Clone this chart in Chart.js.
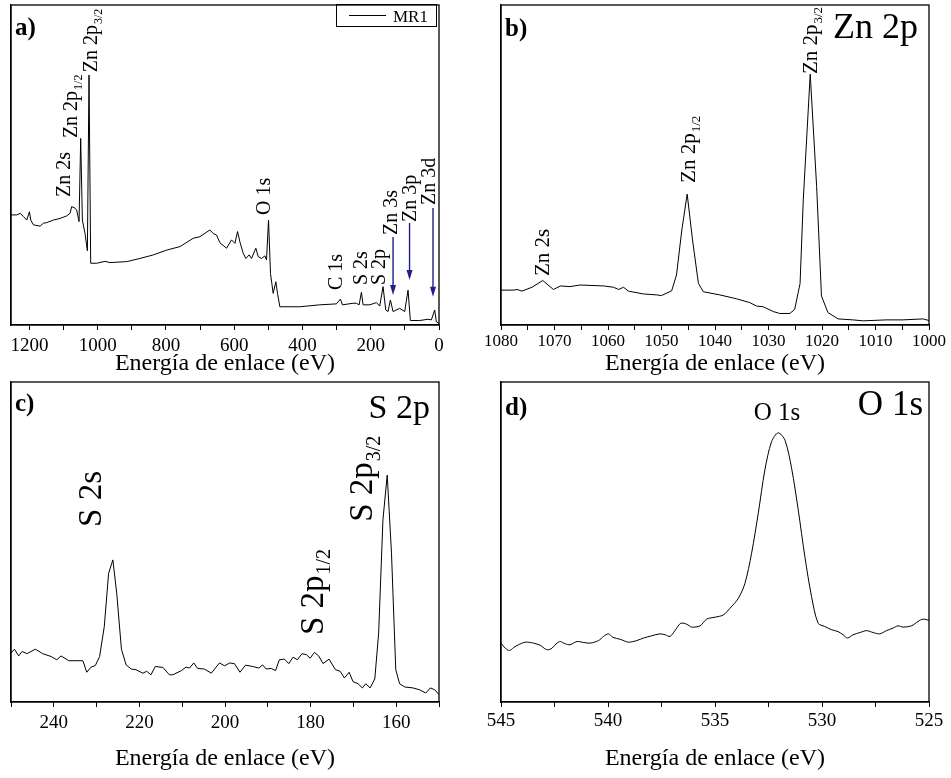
<!DOCTYPE html>
<html>
<head>
<meta charset="utf-8">
<script src="https://cdn.jsdelivr.net/npm/chart.js@4.4.1/dist/chart.umd.min.js"></script>
<style>
  html, body { margin: 0; padding: 0; background: #fff; }
  #wrap { position: relative; width: 951px; height: 778px; overflow: hidden; }
  canvas { position: absolute; }
</style>
</head>
<body>
<div id="wrap">
  <canvas id="chA" width="475" height="380" style="left:0;top:0"></canvas>
  <canvas id="chB" width="481" height="380" style="left:470px;top:0"></canvas>
  <canvas id="chC" width="475" height="398" style="left:0;top:380px"></canvas>
  <canvas id="chD" width="481" height="398" style="left:470px;top:380px"></canvas>
</div>
<script>
// a) survey spectrum
const surveyEnergy = [1253.7, 1237.1, 1227.3, 1217.6, 1207.8, 1200.0, 1196.1, 1188.3, 1168.8, 1159.0, 1149.3, 1129.8, 1110.2, 1090.7, 1081.0, 1076.1, 1066.3, 1061.5, 1054.6, 1049.8, 1044.9, 1037.1, 1030.2, 1025.4, 1020.5, 1002.9, 978.5, 963.9, 915.1, 876.1, 837.1, 798.0, 759.0, 720.0, 700.5, 671.2, 661.5, 651.7, 642.0, 622.4, 607.8, 598.0, 590.2, 583.4, 573.7, 565.9, 556.1, 549.3, 536.6, 529.8, 520.0, 510.2, 505.4, 499.5, 493.7, 485.9, 478.0, 473.2, 466.3, 407.8, 349.3, 300.5, 288.8, 282.9, 251.7, 242.0, 234.1, 227.3, 222.4, 202.9, 183.4, 173.7, 163.9, 156.1, 149.3, 142.4, 134.6, 115.1, 100.5, 90.7, 83.9, 56.6, 32.2, 22.4, 12.7, 7.8, 0];
const surveyCounts = [34.4, 34.4, 34.9, 33.9, 32.8, 35.4, 32.8, 31.3, 30.9, 31.8, 32.0, 32.8, 33.3, 34.1, 34.9, 37.0, 36.5, 35.9, 32.3, 58.3, 32.8, 28.6, 23.2, 78.1, 19.3, 19.3, 19.9, 19.5, 19.8, 20.8, 21.9, 23.4, 24.5, 27.1, 27.6, 29.7, 28.6, 28.1, 25.7, 24.0, 26.6, 25.5, 29.2, 26.0, 22.4, 20.8, 21.9, 20.8, 24.0, 21.4, 20.8, 21.6, 20.3, 32.8, 16.1, 9.9, 13.5, 9.9, 5.7, 5.7, 6.3, 6.6, 8.1, 6.3, 6.8, 6.8, 6.3, 10.2, 6.3, 6.3, 7.0, 5.9, 12.0, 4.7, 4.2, 7.8, 4.2, 5.2, 4.2, 10.9, 1.4, 1.4, 1.8, 1.6, 4.7, 1.0, 0.5];

// b) Zn 2p
const zn2pEnergy = [1080.0, 1077.6, 1077.0, 1076.1, 1074.2, 1072.2, 1070.2, 1068.9, 1067.1, 1065.2, 1060.8, 1059.0, 1058.0, 1057.1, 1056.2, 1053.4, 1050.9, 1050.0, 1048.1, 1047.2, 1046.2, 1045.2, 1044.2, 1043.1, 1042.2, 1039.1, 1036.0, 1033.5, 1032.2, 1031.0, 1029.1, 1027.9, 1026.0, 1025.1, 1024.1, 1023.5, 1022.2, 1021.0, 1020.1, 1018.9, 1017.0, 1014.2, 1012.3, 1008.0, 1004.9, 1001.1, 1000.0];
const zn2pCounts = [10.9, 10.9, 11.1, 10.6, 11.8, 13.9, 11.1, 12.2, 12.0, 12.5, 12.2, 11.8, 11.1, 11.8, 10.6, 9.7, 9.4, 9.2, 10.7, 15.6, 29.7, 40.9, 26.6, 13.0, 10.4, 9.4, 8.2, 7.0, 5.9, 5.7, 4.2, 3.6, 3.6, 4.9, 13.0, 39.1, 78.4, 43.2, 9.1, 3.9, 1.9, 1.6, 1.3, 1.6, 1.6, 1.9, 1.4];

// c) S 2p
const s2pEnergy = [250.0, 249.2, 248.2, 247.4, 246.3, 244.3, 242.6, 240.6, 239.3, 238.3, 236.5, 233.2, 232.3, 231.3, 230.3, 229.3, 228.2, 227.2, 226.2, 225.3, 224.2, 223.1, 221.9, 220.8, 219.2, 218.3, 217.3, 216.3, 214.5, 213.0, 212.2, 210.2, 209.1, 208.3, 207.3, 206.4, 204.8, 203.2, 201.3, 200.1, 198.9, 197.8, 196.5, 195.2, 193.5, 192.1, 191.2, 190.4, 189.2, 188.2, 187.3, 186.1, 185.1, 184.1, 183.1, 182.0, 181.0, 180.1, 179.1, 178.1, 177.1, 175.7, 174.2, 173.1, 172.1, 171.0, 170.1, 168.9, 167.9, 167.1, 166.1, 165.0, 164.1, 163.1, 162.1, 161.1, 160.1, 159.2, 158.0, 156.1, 154.5, 153.1, 152.0, 151.0, 150.0];
const s2pCounts = [15.3, 16.5, 14.4, 15.8, 15.1, 16.5, 15.1, 14.2, 13.2, 14.4, 12.9, 12.9, 9.3, 10.9, 11.4, 14.2, 23.6, 40.2, 44.4, 34.0, 16.5, 11.6, 10.3, 10.1, 9.0, 9.6, 8.5, 11.1, 10.8, 8.5, 8.5, 9.8, 10.9, 10.6, 12.2, 10.5, 10.3, 9.0, 12.2, 11.3, 12.2, 12.0, 9.3, 11.5, 11.1, 10.6, 11.6, 10.3, 10.5, 9.8, 13.2, 13.4, 12.0, 14.0, 13.2, 15.1, 14.8, 13.7, 15.5, 14.4, 12.0, 13.4, 10.1, 9.6, 7.5, 9.3, 6.4, 5.7, 4.4, 5.7, 4.4, 7.2, 21.5, 56.9, 70.9, 46.5, 10.1, 5.7, 4.7, 4.4, 3.8, 2.8, 4.4, 3.8, 2.3];

// d) O 1s
const o1sEnergy = [545.00, 544.80, 544.60, 544.41, 544.18, 543.86, 543.48, 543.16, 542.98, 542.82, 542.62, 542.39, 542.23, 542.00, 541.77, 541.45, 541.14, 540.83, 540.44, 540.21, 539.98, 539.77, 539.43, 539.04, 538.65, 538.34, 537.95, 537.57, 537.33, 537.10, 536.87, 536.60, 536.32, 536.09, 535.70, 535.39, 535.00, 534.61, 534.30, 533.91, 533.60, 533.29, 532.98, 532.67, 532.36, 532.05, 531.73, 531.42, 531.11, 530.80, 530.49, 530.18, 529.87, 529.56, 529.25, 529.01, 528.81, 528.55, 528.23, 527.92, 527.61, 527.30, 526.99, 526.68, 526.45, 526.21, 525.82, 525.51, 525.28, 525.00];
const o1sCounts = [18.4, 16.8, 16.1, 17.0, 17.9, 18.7, 18.4, 17.7, 16.8, 16.3, 16.8, 18.4, 18.9, 18.2, 17.9, 18.9, 18.6, 18.4, 19.2, 20.5, 21.3, 20.2, 19.6, 18.7, 19.2, 20.0, 20.7, 21.3, 21.0, 20.5, 22.3, 24.6, 24.3, 23.4, 23.8, 25.9, 26.5, 27.2, 29.3, 32.4, 37.1, 46.5, 58.9, 72.5, 81.3, 84.1, 81.8, 73.0, 60.0, 45.4, 33.0, 24.6, 23.6, 22.6, 22.0, 21.0, 20.0, 21.0, 21.7, 22.3, 21.7, 21.3, 22.3, 23.1, 23.8, 23.4, 23.8, 25.2, 25.9, 25.5];

const axisTitle = 'Energía de enlace (eV)';
const seriesName = 'MR1';

// peak labels (x in eV, y at the start of the text in counts units)
const peaksA = [
  { t: 'Zn 2s', x: 1101, y: 40 },
  { t: 'Zn 2p', s: '1/2', x: 1080, y: 58.4 },
  { t: 'Zn 2p', s: '3/2', x: 1021, y: 79 },
  { t: 'O 1s', x: 515, y: 34.4 },
  { t: 'C 1s', x: 304, y: 10.9 },
  { t: 'S 2s', x: 231, y: 12.5 },
  { t: 'S 2p', x: 179, y: 12.5 },
  { t: 'Zn 3s', x: 143, y: 28.1 },
  { t: 'Zn 3p', x: 87, y: 32.2 },
  { t: 'Zn 3d', x: 32, y: 37.5 }
];
const arrowsA = [
  { x: 134.6, from: 27.5, to: 9.4 },
  { x: 86.3, from: 31.9, to: 14.1 },
  { x: 17.6, from: 36.6, to: 8.8 }
];
const peaksB = [
  { t: 'Zn 2s', x: 1072.3, y: 15.3 },
  { t: 'Zn 2p', s: '1/2', x: 1045, y: 44.4 },
  { t: 'Zn 2p', s: '3/2', x: 1022.2, y: 78.4 }
];
const peaksC = [
  { t: 'S 2s', x: 231.7, y: 54.7 },
  { t: 'S 2p', s: '1/2', x: 179.8, y: 20.9 },
  { t: 'S 2p', s: '3/2', x: 168.2, y: 56.3 }
];
const peaksD = [
  { t: 'O 1s', x: 532.1, y: 88.1, flat: true }
];

const SERIF = '"Liberation Serif", "Times New Roman", serif';

function toPoints(xs, ys) {
  return xs.map((e, i) => ({ x: e, y: ys[i] }));
}

// frame around the plot area
const framePlugin = {
  id: 'frame',
  afterDraw(chart) {
    const { ctx, chartArea: ca } = chart;
    ctx.save();
    ctx.strokeStyle = '#000';
    ctx.lineWidth = 1.3;
    ctx.strokeRect(ca.left, ca.top, ca.right - ca.left, ca.bottom - ca.top);
    ctx.restore();
  }
};
Chart.register(framePlugin);

// panel annotations: peak names, arrows, panel tag, big title, legend
function notesPlugin(o) {
  return {
    id: 'notes',
    afterDatasetsDraw(chart) {
      const { ctx, chartArea: ca } = chart;
      const xs = chart.scales.x, ys = chart.scales.y;
      ctx.save();
      ctx.fillStyle = '#000';

      (o.peaks || []).forEach(p => {
        const size = o.peakSize;
        const px = xs.getPixelForValue(p.x), py = ys.getPixelForValue(p.y);
        ctx.font = size + 'px ' + SERIF;
        ctx.textBaseline = 'alphabetic';
        if (p.flat) {
          ctx.textAlign = 'center';
          ctx.fillText(p.t, px, py);
          return;
        }
        ctx.save();
        ctx.translate(px, py);
        ctx.rotate(-Math.PI / 2);
        ctx.textAlign = 'left';
        const base = size * 0.34;
        ctx.fillText(p.t, 0, base);
        if (p.s) {
          const w = ctx.measureText(p.t).width;
          ctx.font = Math.round(size * 0.62) + 'px ' + SERIF;
          ctx.fillText(p.s, w + 1, base + size * 0.22);
        }
        ctx.restore();
      });

      (o.arrows || []).forEach(a => {
        const px = xs.getPixelForValue(a.x);
        const y1 = ys.getPixelForValue(a.from), y2 = ys.getPixelForValue(a.to);
        ctx.strokeStyle = '#1f1f8c';
        ctx.fillStyle = '#1f1f8c';
        ctx.lineWidth = 1.4;
        ctx.beginPath();
        ctx.moveTo(px, y1);
        ctx.lineTo(px, y2 - 8);
        ctx.stroke();
        ctx.beginPath();
        ctx.moveTo(px - 3, y2 - 10);
        ctx.lineTo(px + 3, y2 - 10);
        ctx.lineTo(px, y2);
        ctx.closePath();
        ctx.fill();
      });

      ctx.fillStyle = '#000';
      if (o.tag) {
        ctx.font = 'bold 25px ' + SERIF;
        ctx.textAlign = 'left';
        ctx.textBaseline = 'alphabetic';
        ctx.fillText(o.tag, ca.left + 4, ca.top + o.tagDy);
      }
      if (o.big) {
        ctx.font = o.bigSize + 'px ' + SERIF;
        ctx.textAlign = 'right';
        ctx.textBaseline = 'alphabetic';
        ctx.fillText(o.big, ca.right - o.bigDx, ca.top + o.bigDy);
      }
      if (o.legend) {
        const bx = ca.right - 103, by = ca.top - 1;
        ctx.strokeStyle = '#000';
        ctx.lineWidth = 1;
        ctx.strokeRect(bx + 0.5, by + 0.5, 100, 22);
        ctx.beginPath();
        ctx.moveTo(bx + 13, by + 11.5);
        ctx.lineTo(bx + 50, by + 11.5);
        ctx.stroke();
        ctx.font = '17px ' + SERIF;
        ctx.textAlign = 'left';
        ctx.fillText(o.legend, bx + 57, by + 18);
      }
      ctx.restore();
    }
  };
}

function makeChart(id, xsArr, ysArr, ax, notes) {
  return new Chart(document.getElementById(id), {
    type: 'line',
    data: {
      datasets: [{
        label: seriesName,
        data: toPoints(xsArr, ysArr),
        borderColor: '#000',
        borderWidth: 1,
        pointRadius: 0,
        tension: ax.tension || 0,
        fill: false
      }]
    },
    plugins: [notesPlugin(notes)],
    options: {
      responsive: false,
      animation: false,
      layout: { padding: ax.pad },
      plugins: {
        legend: { display: false },
        tooltip: { enabled: false }
      },
      scales: {
        x: {
          type: 'linear',
          reverse: true,
          min: ax.min,
          max: ax.max,
          afterFit: s => { s.height = ax.axisH; },
          border: { display: true, color: '#000', width: 1.3 },
          grid: { drawOnChartArea: false, drawTicks: true, tickLength: 5, color: '#000', tickColor: '#000', tickWidth: 1 },
          ticks: {
            stepSize: ax.step,
            includeBounds: false,
            autoSkip: false,
            maxRotation: 0,
            padding: ax.tickPad,
            color: '#000',
            font: { family: SERIF, size: ax.tickSize, lineHeight: 1 },
            callback: v => {
              const r = v / ax.labelStep;
              return Math.abs(r - Math.round(r)) < 1e-6 ? String(v) : '';
            }
          },
          title: {
            display: true,
            text: axisTitle,
            color: '#000',
            font: { family: SERIF, size: 24, lineHeight: 1 },
            padding: { top: 0, bottom: ax.titlePad }
          }
        },
        y: {
          min: 0,
          max: 100,
          afterFit: s => { s.width = 0; },
          border: { display: true, color: '#000', width: 1.3 },
          grid: { display: false },
          ticks: { display: false }
        }
      }
    }
  });
}

makeChart('chA', surveyEnergy, surveyCounts,
  { min: 0, max: 1254, step: 100, labelStep: 200, tickSize: 19, tickPad: 7, axisH: 55, titlePad: 4,
    pad: { left: 11, top: 5, right: 36, bottom: 0 } },
  { peaks: peaksA, peakSize: 20, arrows: arrowsA, tag: 'a)', tagDy: 30, legend: seriesName });

makeChart('chB', zn2pEnergy, zn2pCounts,
  { min: 1000, max: 1080, step: 5, labelStep: 10, tickSize: 17, tickPad: 3, axisH: 55, titlePad: 4,
    pad: { left: 31, top: 5, right: 22, bottom: 0 } },
  { peaks: peaksB, peakSize: 21, tag: 'b)', tagDy: 31, big: 'Zn 2p', bigSize: 36, bigDx: 11, bigDy: 33 });

makeChart('chC', s2pEnergy, s2pCounts,
  { min: 150, max: 250, step: 10, labelStep: 20, tickSize: 19, tickPad: 7, axisH: 76, titlePad: 7,
    pad: { left: 11, top: 2, right: 36, bottom: 0 } },
  { peaks: peaksC, peakSize: 33, tag: 'c)', tagDy: 29, big: 'S 2p', bigSize: 34, bigDx: 9, bigDy: 36 });

makeChart('chD', o1sEnergy, o1sCounts,
  { min: 525, max: 545, step: 2.5, labelStep: 5, tickSize: 19, tickPad: 5, axisH: 76, titlePad: 7, tension: 0.3,
    pad: { left: 31, top: 2, right: 22, bottom: 0 } },
  { peaks: peaksD, peakSize: 25, tag: 'd)', tagDy: 33, big: 'O 1s', bigSize: 35, bigDx: 6, bigDy: 33 });
</script>
</body>
</html>
